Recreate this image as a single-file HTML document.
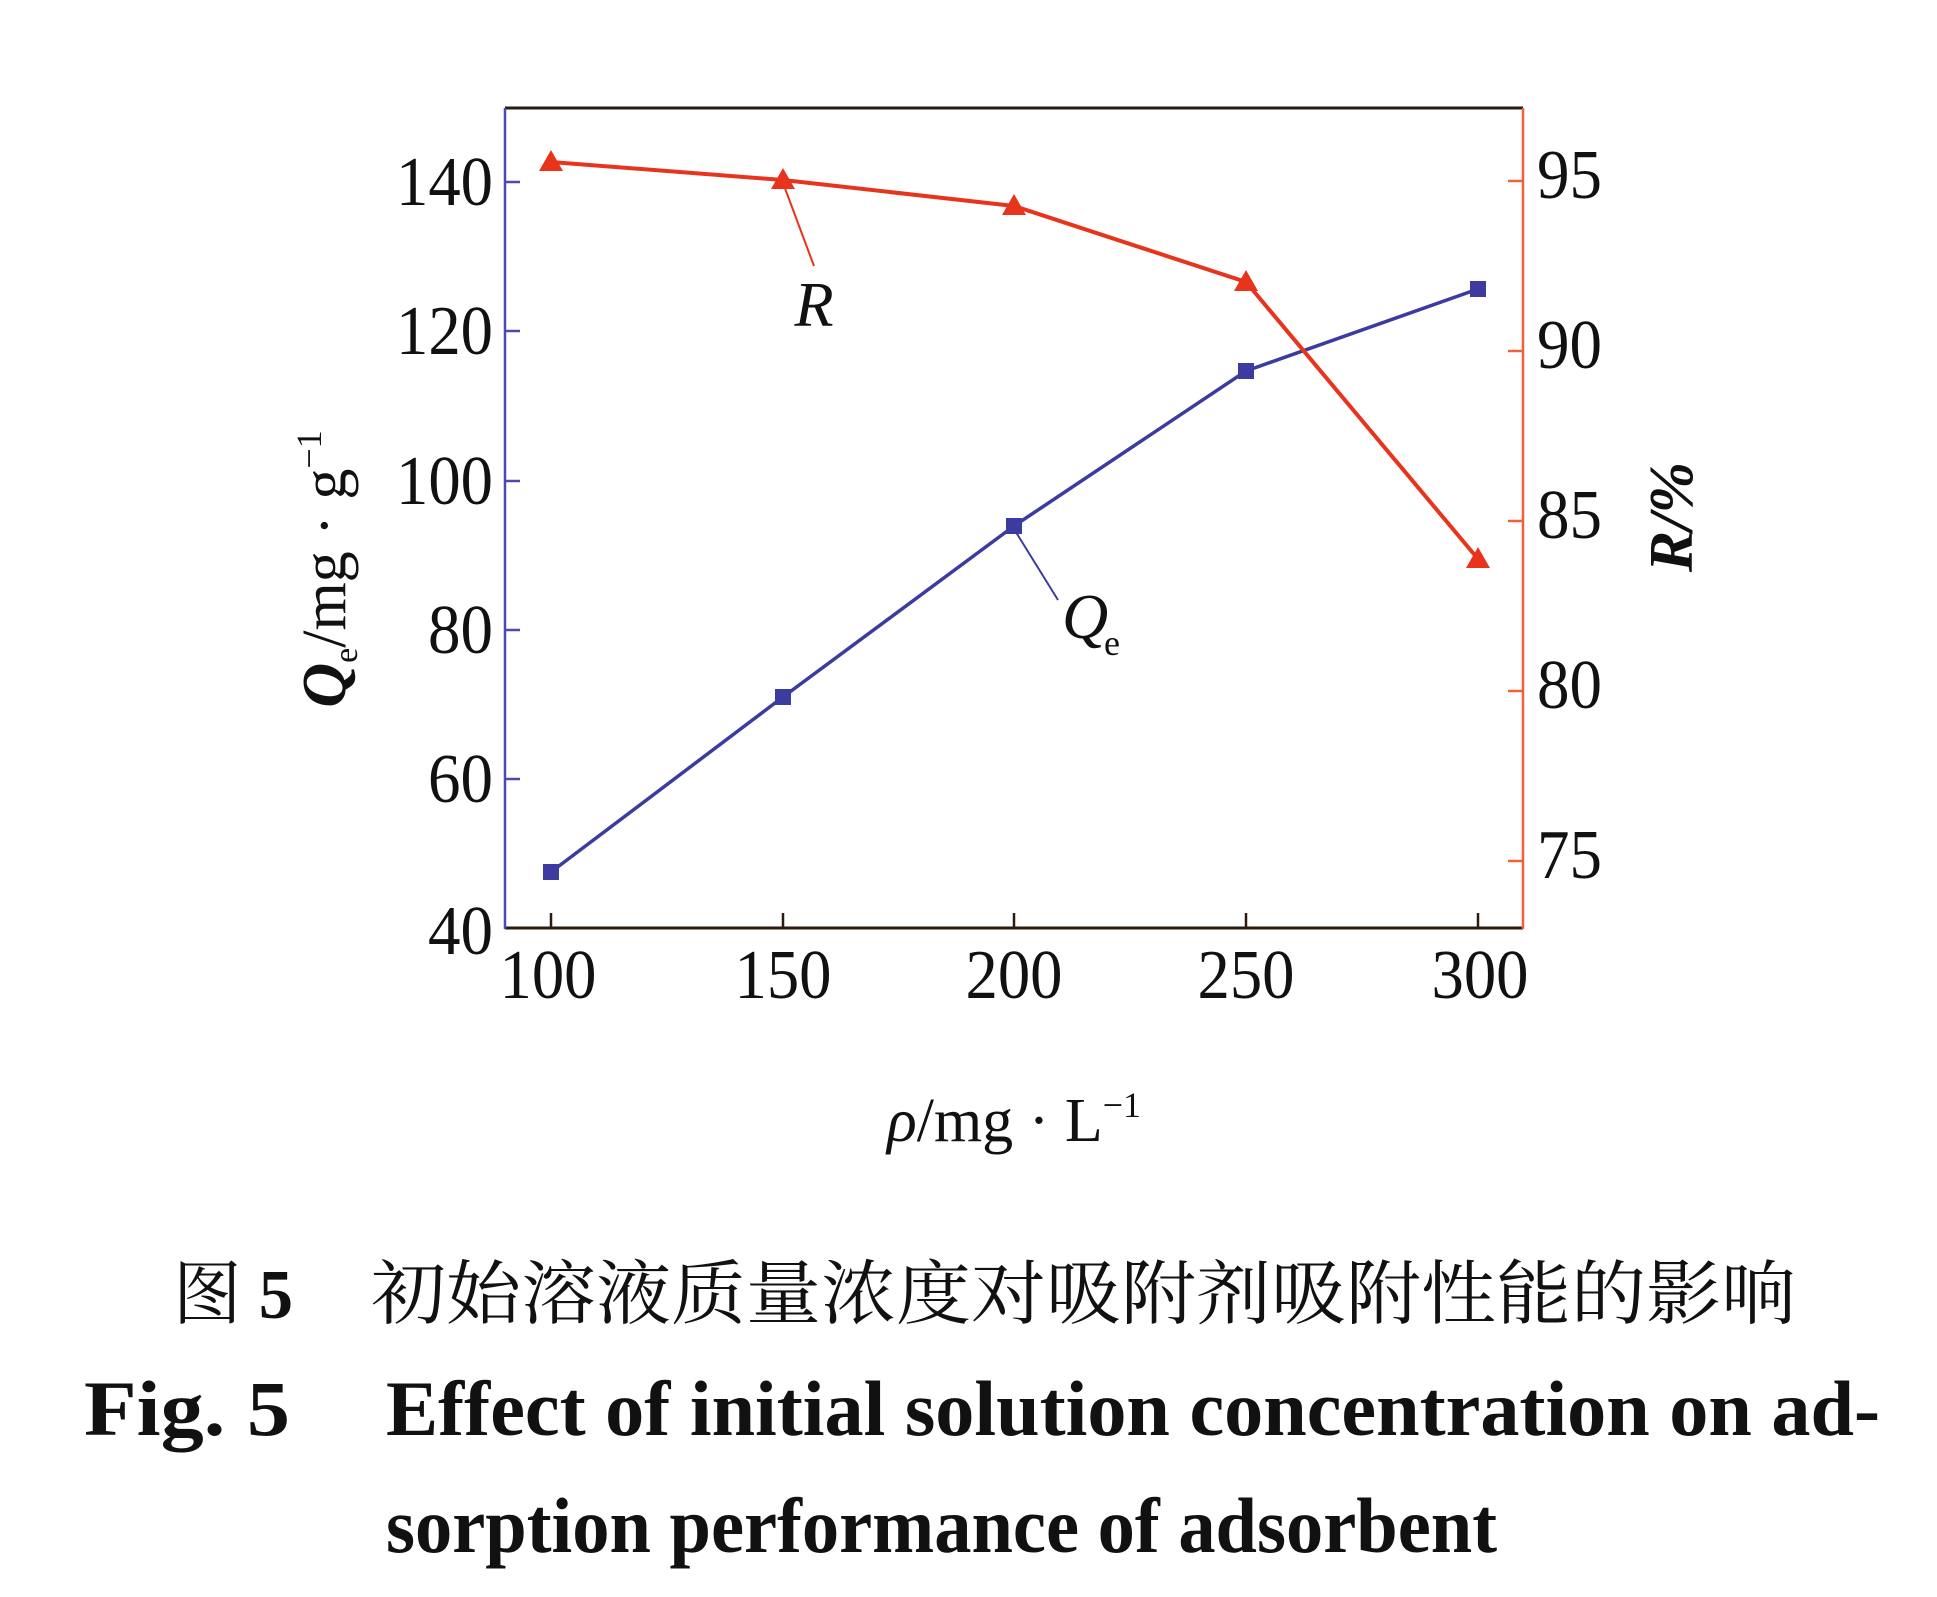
<!DOCTYPE html>
<html><head><meta charset="utf-8"><style>
html,body{margin:0;padding:0;background:#fff;}
svg{display:block;}
text{font-family:"Liberation Serif","Noto Serif CJK SC",serif;fill:#111;}
</style></head><body>
<svg width="1937" height="1597" viewBox="0 0 1937 1597" xmlns="http://www.w3.org/2000/svg">
<!-- axes -->
<line x1="505" y1="108" x2="1523" y2="108" stroke="#2a1a12" stroke-width="3"/>
<line x1="505" y1="928" x2="1523" y2="928" stroke="#2a1a12" stroke-width="3"/>
<line x1="505" y1="108" x2="505" y2="929" stroke="#4a4ab0" stroke-width="2.5"/>
<line x1="1523" y1="108" x2="1523" y2="929" stroke="#f0603c" stroke-width="2.5"/>
<!-- left ticks -->
<g stroke="#4a4ab0" stroke-width="2.5">
<line x1="505" y1="182" x2="520" y2="182"/><line x1="505" y1="331" x2="520" y2="331"/>
<line x1="505" y1="481" x2="520" y2="481"/><line x1="505" y1="630" x2="520" y2="630"/>
<line x1="505" y1="779" x2="520" y2="779"/></g>
<!-- right ticks -->
<g stroke="#f0603c" stroke-width="2.5">
<line x1="1508" y1="181" x2="1523" y2="181"/><line x1="1508" y1="351" x2="1523" y2="351"/>
<line x1="1508" y1="521" x2="1523" y2="521"/><line x1="1508" y1="691" x2="1523" y2="691"/>
<line x1="1508" y1="861" x2="1523" y2="861"/></g>
<!-- bottom ticks -->
<g stroke="#2a1a12" stroke-width="2.5">
<line x1="551" y1="913" x2="551" y2="928"/><line x1="783" y1="913" x2="783" y2="928"/>
<line x1="1014" y1="913" x2="1014" y2="928"/><line x1="1246" y1="913" x2="1246" y2="928"/>
<line x1="1478" y1="913" x2="1478" y2="928"/></g>
<!-- left labels -->
<g font-size="70" text-anchor="end">
<text x="493" y="205" textLength="97" lengthAdjust="spacingAndGlyphs">140</text>
<text x="493" y="354" textLength="97" lengthAdjust="spacingAndGlyphs">120</text>
<text x="493" y="504" textLength="97" lengthAdjust="spacingAndGlyphs">100</text>
<text x="493" y="653" textLength="65" lengthAdjust="spacingAndGlyphs">80</text>
<text x="493" y="802" textLength="65" lengthAdjust="spacingAndGlyphs">60</text>
<text x="493" y="954" textLength="65" lengthAdjust="spacingAndGlyphs">40</text>
</g>
<!-- right labels -->
<g font-size="70">
<text x="1537" y="198" textLength="65" lengthAdjust="spacingAndGlyphs">95</text>
<text x="1537" y="368" textLength="65" lengthAdjust="spacingAndGlyphs">90</text>
<text x="1537" y="538" textLength="65" lengthAdjust="spacingAndGlyphs">85</text>
<text x="1537" y="708" textLength="65" lengthAdjust="spacingAndGlyphs">80</text>
<text x="1537" y="878" textLength="65" lengthAdjust="spacingAndGlyphs">75</text>
</g>
<!-- bottom labels -->
<g font-size="70" text-anchor="middle">
<text x="548" y="998" textLength="97" lengthAdjust="spacingAndGlyphs">100</text>
<text x="783" y="998" textLength="97" lengthAdjust="spacingAndGlyphs">150</text>
<text x="1014" y="998" textLength="97" lengthAdjust="spacingAndGlyphs">200</text>
<text x="1246" y="998" textLength="97" lengthAdjust="spacingAndGlyphs">250</text>
<text x="1480" y="998" textLength="97" lengthAdjust="spacingAndGlyphs">300</text>
</g>
<!-- Qe series -->
<polyline fill="none" stroke="#3c3ca0" stroke-width="3.5" points="551,872 783,697 1014,526 1246,371 1478,289"/>
<g fill="#3c3ca0">
<rect x="543" y="864" width="16" height="16"/><rect x="775" y="689" width="16" height="16"/>
<rect x="1006" y="518" width="16" height="16"/><rect x="1238" y="363" width="16" height="16"/>
<rect x="1470" y="281" width="16" height="16"/></g>
<!-- R series -->
<polyline fill="none" stroke="#e8341c" stroke-width="4" points="551,162 783,180 1014,206 1246,282 1478,559"/>
<g fill="#e8341c">
<polygon points="551,150 539,171 563,171"/><polygon points="783,168 771,189 795,189"/>
<polygon points="1014,194 1002,215 1026,215"/><polygon points="1246,270 1234,291 1258,291"/>
<polygon points="1478,547 1466,568 1490,568"/></g>
<!-- annotations -->
<line x1="783" y1="183" x2="814" y2="266" stroke="#e8341c" stroke-width="2"/>
<text x="814" y="326" font-size="64" font-style="italic" text-anchor="middle">R</text>
<line x1="1014" y1="529" x2="1058" y2="600" stroke="#3c3ca0" stroke-width="2"/>
<text x="1062" y="638" font-size="64" font-style="italic">Q</text>
<text x="1104" y="655" font-size="36">e</text>
<!-- left y label -->
<text transform="translate(345,569) rotate(-90)" font-size="62" text-anchor="middle"><tspan font-style="italic" font-weight="bold">Q</tspan><tspan font-size="34" dy="12">e</tspan><tspan dy="-12">/mg · g</tspan><tspan font-size="36" dy="-24">−1</tspan></text>
<!-- right y label -->
<text transform="translate(1692,517) rotate(-90)" font-size="62" text-anchor="middle" font-style="italic" font-weight="bold">R/%</text>
<!-- x label -->
<text x="1014" y="1141" font-size="62" text-anchor="middle"><tspan font-style="italic">ρ</tspan>/mg · L<tspan font-size="36" dy="-24">−1</tspan></text>
<!-- caption -->
<text x="173" y="1318" font-size="70" font-family="'Liberation Serif','Noto Sans CJK SC',sans-serif" textLength="120" lengthAdjust="spacingAndGlyphs">图 <tspan font-weight="bold">5</tspan></text>
<text x="371" y="1318" font-size="70" font-family="'Noto Sans CJK SC',sans-serif" textLength="1425" lengthAdjust="spacingAndGlyphs">初始溶液质量浓度对吸附剂吸附性能的影响</text>
<text x="84" y="1435" font-size="78" font-weight="bold" textLength="206" lengthAdjust="spacingAndGlyphs">Fig.  5</text>
<text x="386" y="1435" font-size="78" font-weight="bold" textLength="1494" lengthAdjust="spacingAndGlyphs">Effect  of  initial  solution  concentration  on  ad-</text>
<text x="386" y="1552" font-size="78" font-weight="bold" textLength="1111" lengthAdjust="spacingAndGlyphs">sorption  performance  of  adsorbent</text>
</svg>
</body></html>
